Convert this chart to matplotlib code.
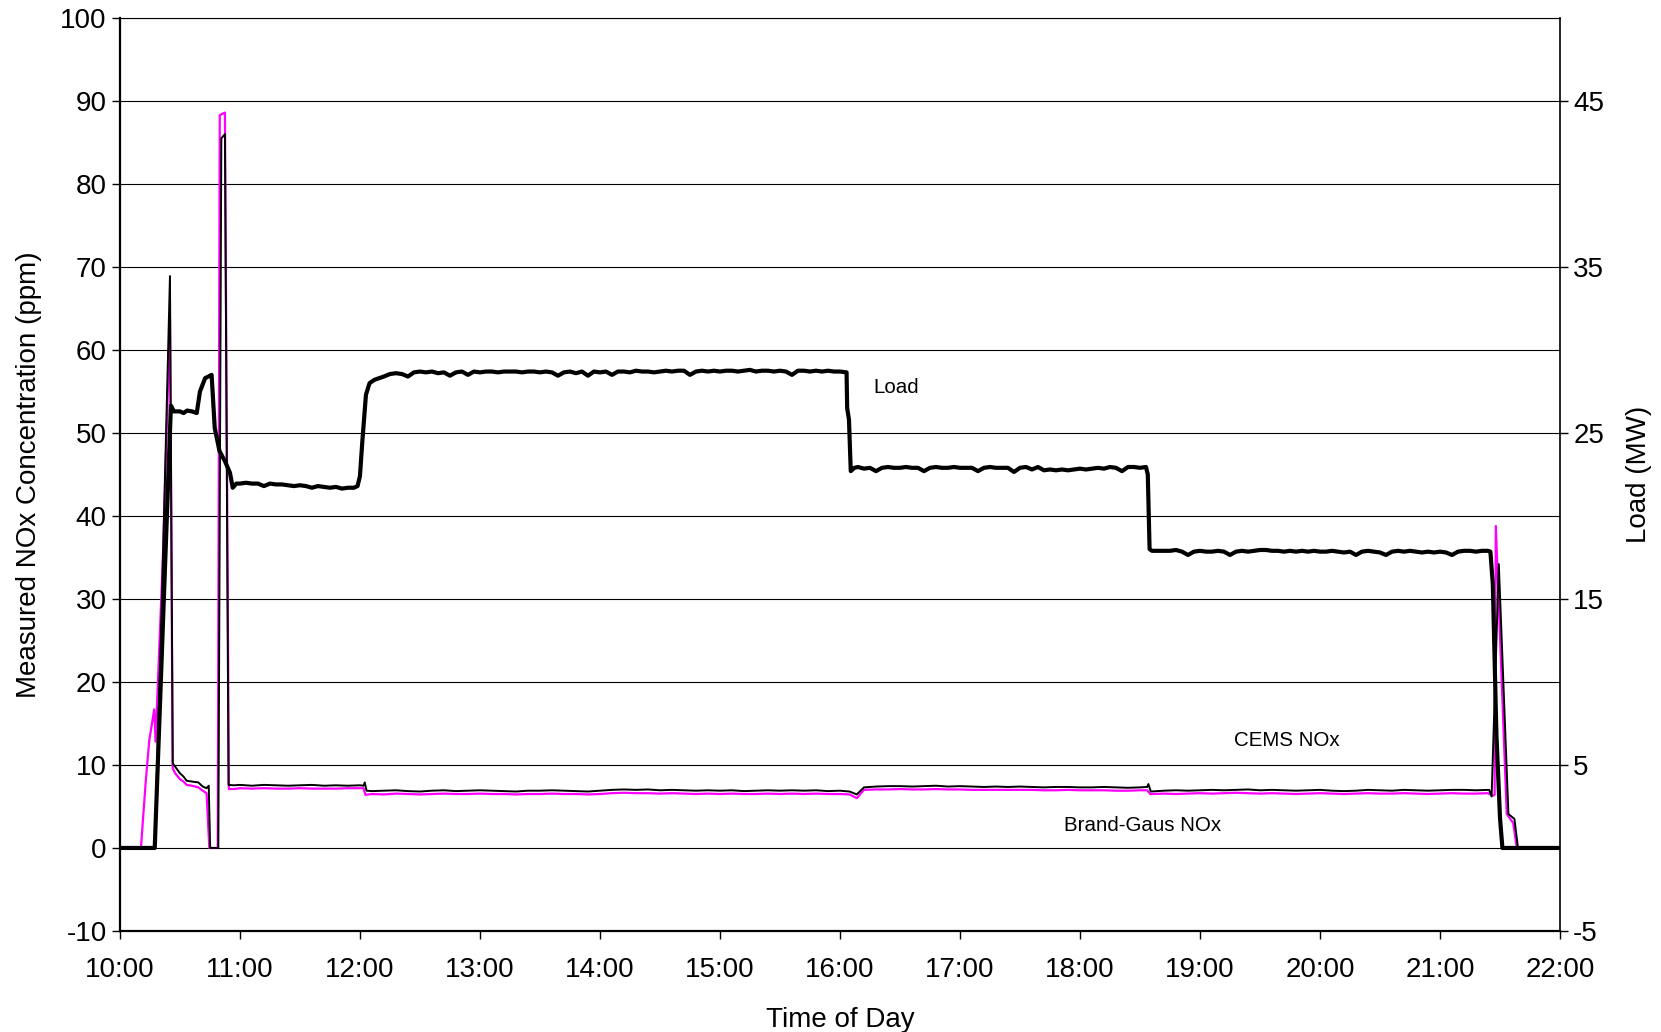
import matplotlib
matplotlib.use("Agg")
import matplotlib.pyplot as plt
import numpy as np

plt.rcParams['font.family'] = ['Liberation Sans', 'DejaVu Sans']
plt.rcParams['axes.unicode_minus'] = False

# ---- data (time in decimal hours of day) ----
hour_ticks = [10, 11, 12, 13, 14, 15, 16, 17, 18, 19, 20, 21, 22]
hour_labels = [f"{h}:00" for h in hour_ticks]

# Brand-Gaus NOx (ppm)
bg_t = [10.00, 10.175, 10.215, 10.244, 10.286, 10.297, 10.36, 10.417, 10.44, 10.46, 10.50, 10.53,
        10.556, 10.60, 10.653, 10.69, 10.722, 10.745, 10.815, 10.832, 10.875, 10.908,
        10.95, 11.0, 11.1, 11.2, 11.3, 11.4, 11.5, 11.6, 11.7, 11.8, 11.9, 12.0, 12.03, 12.045,
        12.1, 12.2, 12.3, 12.4, 12.5, 12.6, 12.7, 12.8, 12.9, 13.0, 13.1, 13.2, 13.3, 13.4,
        13.5, 13.6, 13.7, 13.8, 13.9, 14.0, 14.1, 14.2, 14.3, 14.4, 14.5, 14.6, 14.7, 14.8,
        14.9, 15.0, 15.1, 15.2, 15.3, 15.4, 15.5, 15.6, 15.7, 15.8, 15.9, 16.0, 16.08, 16.14,
        16.2, 16.3, 16.4, 16.5, 16.6, 16.7, 16.8, 16.9, 17.0, 17.1, 17.2, 17.3, 17.4, 17.5,
        17.6, 17.7, 17.8, 17.9, 18.0, 18.1, 18.2, 18.3, 18.4, 18.5, 18.56, 18.585,
        18.6, 18.7, 18.8, 18.9, 19.0, 19.1, 19.2, 19.3, 19.4, 19.5, 19.6, 19.7, 19.8, 19.9,
        20.0, 20.1, 20.2, 20.3, 20.4, 20.5, 20.6, 20.7, 20.8, 20.9, 21.0, 21.1, 21.2, 21.3,
        21.4, 21.44, 21.455, 21.465, 21.556, 21.61, 21.64, 22.0]
bg_ppm = [0, 0, 8.0, 12.9, 16.7, 12.8, 35.8, 63.7, 9.6, 9.0, 8.3, 8.0,
          7.6, 7.5, 7.3, 6.9, 6.6, 0, 0, 88.3, 88.6, 7.1,
          7.1, 7.2, 7.15, 7.2, 7.15, 7.15, 7.2, 7.15, 7.15, 7.15, 7.2, 7.2, 7.2, 6.4,
          6.5, 6.45, 6.55, 6.5, 6.45, 6.5, 6.55, 6.5, 6.5, 6.55, 6.5, 6.5, 6.45, 6.5,
          6.5, 6.55, 6.5, 6.5, 6.45, 6.5, 6.6, 6.65, 6.6, 6.6, 6.55, 6.6, 6.55, 6.5,
          6.55, 6.5, 6.55, 6.5, 6.5, 6.55, 6.5, 6.55, 6.5, 6.55, 6.5, 6.5, 6.45, 6.0,
          7.0, 7.05, 7.05, 7.1, 7.05, 7.05, 7.1, 7.05, 7.05, 7.0, 7.0, 7.0, 7.0, 7.0,
          7.0, 6.95, 6.95, 7.0, 6.95, 6.95, 6.95, 6.9, 6.9, 6.95, 6.95, 6.5,
          6.5, 6.55, 6.5, 6.55, 6.6, 6.55, 6.6, 6.65, 6.6, 6.55, 6.6, 6.55, 6.5, 6.55,
          6.6, 6.55, 6.5, 6.55, 6.6, 6.55, 6.55, 6.6, 6.55, 6.5, 6.55, 6.6, 6.55, 6.55,
          6.6, 6.3, 6.4, 38.8, 4.1, 3.0, 0, 0]

# CEMS NOx (ppm)
cems_t = [10.00, 10.29, 10.35, 10.417, 10.44, 10.46, 10.50, 10.53, 10.556, 10.60, 10.653,
          10.69, 10.722, 10.74, 10.752, 10.82, 10.845, 10.875, 10.905,
          10.95, 11.0, 11.1, 11.2, 11.3, 11.4, 11.5, 11.6, 11.7, 11.8, 11.9, 12.0, 12.03, 12.04, 12.055,
          12.1, 12.2, 12.3, 12.4, 12.5, 12.6, 12.7, 12.8, 12.9, 13.0, 13.1, 13.2, 13.3, 13.4,
          13.5, 13.6, 13.7, 13.8, 13.9, 14.0, 14.1, 14.2, 14.3, 14.4, 14.5, 14.6, 14.7, 14.8,
          14.9, 15.0, 15.1, 15.2, 15.3, 15.4, 15.5, 15.6, 15.7, 15.8, 15.9, 16.0, 16.08, 16.14,
          16.2, 16.3, 16.4, 16.5, 16.6, 16.7, 16.8, 16.9, 17.0, 17.1, 17.2, 17.3, 17.4, 17.5,
          17.6, 17.7, 17.8, 17.9, 18.0, 18.1, 18.2, 18.3, 18.4, 18.5, 18.56, 18.57, 18.59,
          18.7, 18.8, 18.9, 19.0, 19.1, 19.2, 19.3, 19.4, 19.5, 19.6, 19.7, 19.8, 19.9,
          20.0, 20.1, 20.2, 20.3, 20.4, 20.5, 20.6, 20.7, 20.8, 20.9, 21.0, 21.1, 21.2, 21.3,
          21.41, 21.43, 21.49, 21.57, 21.62, 21.65, 22.0]
cems_ppm = [0, 0, 30.0, 68.9, 10.2, 9.8, 9.0, 8.6, 8.1, 8.0, 7.9,
            7.4, 7.2, 7.5, 0, 0, 85.5, 86.0, 7.6,
            7.55, 7.6, 7.5, 7.6, 7.55, 7.5, 7.55, 7.6, 7.5, 7.55, 7.5, 7.55, 7.5, 7.9, 6.9,
            6.85, 6.9, 6.95, 6.85, 6.8, 6.9, 6.95, 6.85, 6.9, 6.95, 6.9, 6.85, 6.8, 6.9,
            6.9, 6.95, 6.9, 6.85, 6.8, 6.9, 7.0, 7.05, 7.0, 7.05, 6.95, 7.0, 6.95, 6.9,
            6.95, 6.9, 6.95, 6.85, 6.9, 6.95, 6.9, 6.95, 6.9, 6.95, 6.85, 6.9, 6.8, 6.45,
            7.3, 7.4, 7.45, 7.45, 7.4, 7.45, 7.5, 7.4, 7.45, 7.4, 7.35, 7.4, 7.35, 7.4,
            7.35, 7.3, 7.35, 7.35, 7.3, 7.3, 7.35, 7.3, 7.25, 7.3, 7.35, 7.7, 6.8,
            6.9, 6.95, 6.9, 6.95, 7.0, 6.95, 7.0, 7.05, 6.95, 7.0, 6.95, 6.9, 6.95,
            7.0, 6.9, 6.85, 6.9, 7.0, 6.95, 6.9, 7.0, 6.95, 6.9, 6.95, 7.0, 7.0, 6.95,
            7.0, 6.2, 34.2, 4.1, 3.5, 0, 0]

# Load (MW)
load_t = [10.00, 10.29, 10.425, 10.45, 10.50, 10.53, 10.56, 10.60, 10.64, 10.667, 10.71, 10.764,
          10.79, 10.83, 10.875, 10.917, 10.94, 10.97,
          11.00, 11.05, 11.10, 11.15, 11.20, 11.25, 11.30, 11.35, 11.40, 11.45, 11.50, 11.55,
          11.60, 11.65, 11.70, 11.75, 11.80, 11.85, 11.90, 11.95, 11.98,
          12.00, 12.02, 12.05, 12.08, 12.12, 12.16, 12.20,
          12.25, 12.30, 12.35, 12.40, 12.45, 12.50, 12.55, 12.60, 12.65, 12.70, 12.75, 12.80,
          12.85, 12.90, 12.95, 13.00, 13.05, 13.10, 13.15, 13.20, 13.25, 13.30, 13.35, 13.40,
          13.45, 13.50, 13.55, 13.60, 13.65, 13.70, 13.75, 13.80, 13.85, 13.90, 13.95, 14.00,
          14.05, 14.10, 14.15, 14.20, 14.25, 14.30, 14.35, 14.40, 14.45, 14.50, 14.55, 14.60,
          14.65, 14.70, 14.75, 14.80, 14.85, 14.90, 14.95, 15.00, 15.05, 15.10, 15.15, 15.20,
          15.25, 15.30, 15.35, 15.40, 15.45, 15.50, 15.55, 15.60, 15.65, 15.70, 15.75, 15.80,
          15.85, 15.90, 15.95, 16.00, 16.055, 16.06, 16.075, 16.09, 16.12,
          16.15, 16.20, 16.25, 16.30, 16.35, 16.40, 16.45, 16.50, 16.55, 16.60, 16.65, 16.70,
          16.75, 16.80, 16.85, 16.90, 16.95, 17.00, 17.05, 17.10, 17.15, 17.20, 17.25, 17.30,
          17.35, 17.40, 17.45, 17.50, 17.55, 17.60, 17.65, 17.70, 17.75, 17.80, 17.85, 17.90,
          17.95, 18.00, 18.05, 18.10, 18.15, 18.20, 18.25, 18.30, 18.35, 18.40, 18.45, 18.50,
          18.55, 18.565, 18.58,
          18.60, 18.65, 18.70, 18.75, 18.80, 18.85, 18.90, 18.95, 19.00, 19.05, 19.10, 19.15,
          19.20, 19.25, 19.30, 19.35, 19.40, 19.45, 19.50, 19.55, 19.60, 19.65, 19.70, 19.75,
          19.80, 19.85, 19.90, 19.95, 20.00, 20.05, 20.10, 20.15, 20.20, 20.25, 20.30, 20.35,
          20.40, 20.45, 20.50, 20.55, 20.60, 20.65, 20.70, 20.75, 20.80, 20.85, 20.90, 20.95,
          21.00, 21.05, 21.10, 21.15, 21.20, 21.25, 21.30, 21.35, 21.40, 21.42,
          21.44, 21.47, 21.50, 21.52, 22.00]
load_mw = [0, 0, 26.65, 26.3, 26.3, 26.2, 26.35, 26.3, 26.2, 27.5, 28.3, 28.5,
           25.3, 23.9, 23.3, 22.6, 21.7, 21.95,
           21.95, 22.0, 21.95, 21.95, 21.8, 21.95, 21.9, 21.9, 21.85, 21.8, 21.85, 21.8,
           21.7, 21.8, 21.75, 21.7, 21.75, 21.65, 21.7, 21.7, 21.8,
           22.4, 24.5, 27.3, 28.0, 28.2, 28.3, 28.4,
           28.55, 28.6, 28.55, 28.4, 28.65, 28.7, 28.65, 28.7, 28.6, 28.65, 28.45, 28.65,
           28.7, 28.5, 28.7, 28.65, 28.7, 28.7, 28.65, 28.7, 28.7, 28.7, 28.65, 28.7,
           28.7, 28.65, 28.7, 28.65, 28.45, 28.65, 28.7, 28.6, 28.7, 28.45, 28.7, 28.65,
           28.7, 28.5, 28.7, 28.7, 28.65, 28.75, 28.7, 28.7, 28.65, 28.7, 28.75, 28.7,
           28.75, 28.75, 28.5, 28.7, 28.75, 28.7, 28.75, 28.7, 28.75, 28.75, 28.7, 28.75,
           28.8, 28.7, 28.75, 28.75, 28.7, 28.75, 28.7, 28.5, 28.75, 28.75, 28.7, 28.75,
           28.7, 28.75, 28.7, 28.7, 28.65, 26.5, 25.8, 22.7, 22.9,
           22.95, 22.85, 22.9, 22.7, 22.9, 22.95, 22.9, 22.9, 22.95, 22.9, 22.9, 22.7,
           22.9, 22.95, 22.9, 22.9, 22.95, 22.9, 22.9, 22.9, 22.7, 22.9, 22.95, 22.9,
           22.9, 22.9, 22.65, 22.9, 22.95, 22.8, 22.95, 22.75, 22.8, 22.75, 22.8, 22.75,
           22.8, 22.85, 22.8, 22.85, 22.9, 22.85, 22.95, 22.9, 22.7, 22.95, 22.95, 22.9,
           22.95, 22.5, 18.0,
           17.9, 17.9, 17.9, 17.9, 17.95, 17.85, 17.65, 17.85, 17.9, 17.85, 17.85, 17.9,
           17.85, 17.65, 17.85, 17.9, 17.85, 17.9, 17.95, 17.95, 17.9, 17.9, 17.85, 17.9,
           17.85, 17.9, 17.85, 17.9, 17.85, 17.85, 17.9, 17.85, 17.8, 17.85, 17.65, 17.85,
           17.9, 17.85, 17.8, 17.65, 17.85, 17.9, 17.85, 17.9, 17.85, 17.8, 17.85, 17.8,
           17.85, 17.8, 17.65, 17.85, 17.9, 17.9, 17.85, 17.9, 17.9, 17.85,
           15.9, 6.85, 1.8, 0, 0]

# ---- plot ----
fig = plt.figure(figsize=(16.61, 10.32), dpi=100)
ax = fig.add_axes([0.0722, 0.0979, 0.8670, 0.8847])
ax2 = ax.twinx()

ax.plot(bg_t, bg_ppm, color='#FF00FF', lw=1.6, zorder=3)
ax.plot(cems_t, cems_ppm, color='black', lw=1.4, zorder=4)
ax2.plot(load_t, load_mw, color='black', lw=3.0, zorder=5)

ax.set_xlim(10, 22)
ax.set_ylim(-10, 100)
ax2.set_ylim(-5, 50)
ax.set_yticks(np.arange(-10, 101, 10))
ax2.set_yticks([-5, 5, 15, 25, 35, 45])
ax.set_xticks(hour_ticks)
ax.set_xticklabels(hour_labels)

ax.yaxis.grid(True, color='black', lw=0.8)
ax.set_axisbelow(True)

for a in (ax, ax2):
    a.tick_params(labelsize=20, length=6, width=1, direction='out', color='black')
ax.tick_params(axis='x', pad=13)

ax.spines['left'].set_linewidth(1.6)
ax.spines['bottom'].set_linewidth(1.6)
ax.spines['top'].set_linewidth(0.8)
ax.spines['right'].set_visible(False)
for s in ('left', 'bottom', 'top'):
    ax2.spines[s].set_visible(False)
ax2.spines['right'].set_linewidth(1.2)

ax.set_xlabel('Time of Day', fontsize=20, labelpad=17)
ax.set_ylabel('Measured NOx Concentration (ppm)', fontsize=20, labelpad=13)
ax2.set_ylabel('Load (MW)', fontsize=20, labelpad=16)

ax.text(16.47, 55.5, 'Load', fontsize=14.8, ha='center', va='center')
ax.text(19.72, 12.9, 'CEMS NOx', fontsize=14.8, ha='center', va='center')
ax.text(18.52, 2.65, 'Brand-Gaus NOx', fontsize=14.8, ha='center', va='center')

fig.savefig('out.png', dpi=100)
